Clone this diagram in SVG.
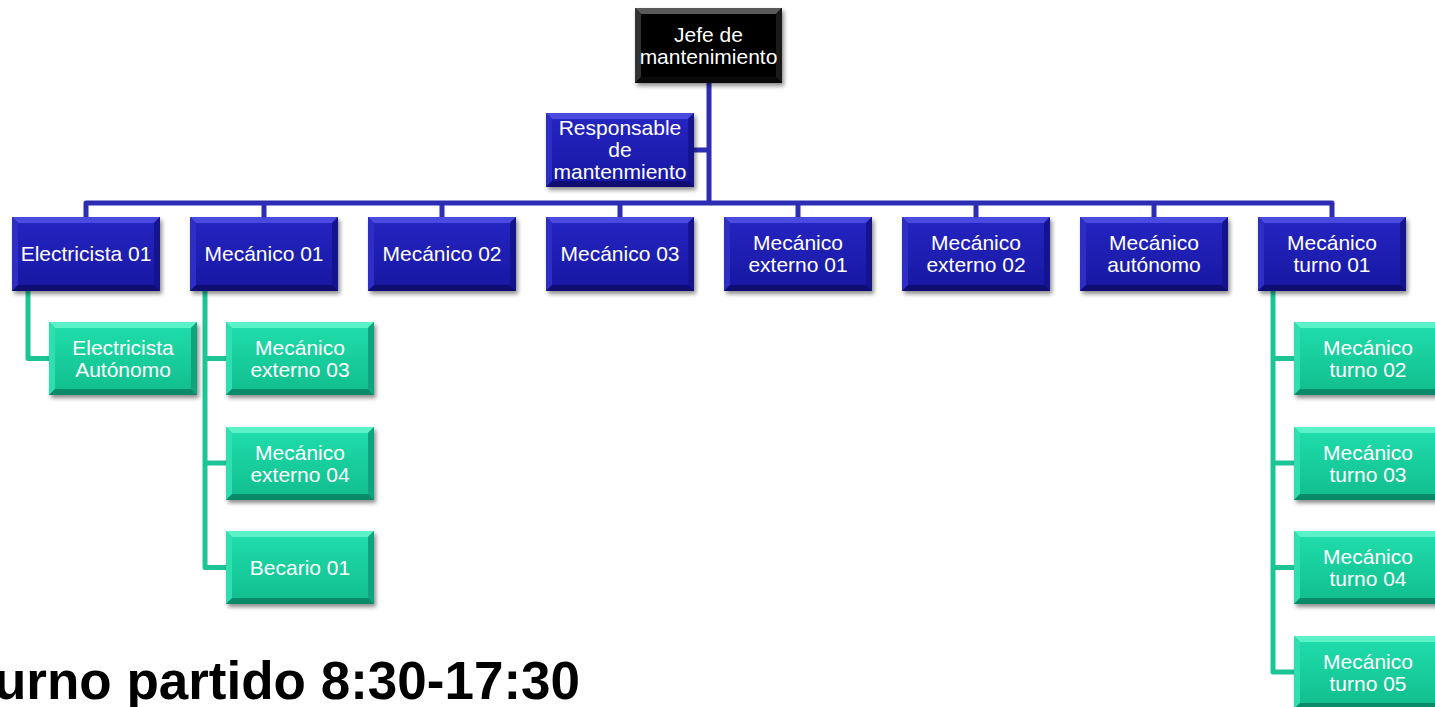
<svg xmlns="http://www.w3.org/2000/svg" xmlns:xlink="http://www.w3.org/1999/xlink" width="1435" height="707" viewBox="0 0 1435 707">
<style>
.t{fill:#ffffff;font-family:"Liberation Sans",Arial,sans-serif;font-size:21px;text-anchor:middle}
.bl{stroke:#2d2db4;stroke-width:5;fill:none;stroke-linejoin:round}
.gl{stroke:#1cc596;stroke-width:5;fill:none;stroke-linejoin:round}
.cap{fill:#000;font-family:"Liberation Sans",Arial,sans-serif;font-size:53px;font-weight:bold;text-anchor:end}
</style>
<defs>
<filter id="sh" x="-10%" y="-10%" width="130%" height="140%">
<feDropShadow dx="2" dy="3" stdDeviation="2" flood-color="#000" flood-opacity="0.45"/>
</filter>
<linearGradient id="gB" x1="0" y1="0" x2="0" y2="1">
<stop offset="0" stop-color="#2424c0"/><stop offset="1" stop-color="#1818a4"/>
</linearGradient>
<linearGradient id="gG" x1="0" y1="0" x2="0" y2="1">
<stop offset="0" stop-color="#1fdcaa"/><stop offset="1" stop-color="#12bf8f"/>
</linearGradient>
<g id="bxB">
<rect width="148" height="74" fill="#1a1aa8" filter="url(#sh)"/>
<polygon points="0,0 148,0 142,6 6,6" fill="#4a4ade"/>
<polygon points="0,0 6,6 6,68 0,74" fill="#2e2ec4"/>
<polygon points="148,0 148,74 142,68 142,6" fill="#14148e"/>
<polygon points="0,74 6,68 142,68 148,74" fill="#0d0d72"/>
<rect x="6" y="6" width="136" height="62" fill="url(#gB)"/>
</g>
<g id="bxG">
<rect width="148" height="73" fill="#14c496" filter="url(#sh)"/>
<polygon points="0,0 148,0 142,6 6,6" fill="#5cf2c8"/>
<polygon points="0,0 6,6 6,67 0,73" fill="#30dfb0"/>
<polygon points="148,0 148,73 142,67 142,6" fill="#0ea57d"/>
<polygon points="0,73 6,67 142,67 148,73" fill="#0a8a68"/>
<rect x="6" y="6" width="136" height="61" fill="url(#gG)"/>
</g>
<g id="bxK">
<rect width="147" height="75" fill="#000" filter="url(#sh)"/>
<polygon points="0,0 147,0 141,6 6,6" fill="#5a5a5a"/>
<polygon points="0,0 6,6 6,69 0,75" fill="#333"/>
<polygon points="147,0 147,75 141,69 141,6" fill="#1a1a1a"/>
<polygon points="0,75 6,69 141,69 147,75" fill="#0a0a0a"/>
<rect x="6" y="6" width="135" height="63" fill="#000"/>
</g>
</defs>
<rect width="1435" height="707" fill="#ffffff"/>

<g id="connectors">
<path class="bl" d="M709,83 V203 M694,150 H709 M86,217 V203 H1332 V217 M264,203 V217 M442,203 V217 M620,203 V217 M798,203 V217 M976,203 V217 M1154,203 V217"/>
<path class="gl" d="M28,291 V358.5 H49"/>
<path class="gl" d="M205,291 V567.5 H226 M205,358.5 H226 M205,463 H226"/>
<path class="gl" d="M1273,291 V672 H1294 M1273,358.5 H1294 M1273,463 H1294 M1273,567.5 H1294"/>
</g>

<g id="jefe" transform="translate(635,8)"><use xlink:href="#bxK"/><text class="t" x="73.5" y="33.5">Jefe de</text><text class="t" x="73.5" y="55.5">mantenimiento</text></g>
<g id="responsable" transform="translate(546,113)"><use xlink:href="#bxB"/><text class="t" x="74" y="22">Responsable</text><text class="t" x="74" y="44">de</text><text class="t" x="74" y="66">mantenmiento</text></g>

<g id="electricista01" transform="translate(12,217)"><use xlink:href="#bxB"/><text class="t" x="74" y="44">Electricista 01</text></g>
<g id="mecanico01" transform="translate(190,217)"><use xlink:href="#bxB"/><text class="t" x="74" y="44">Mecánico 01</text></g>
<g id="mecanico02" transform="translate(368,217)"><use xlink:href="#bxB"/><text class="t" x="74" y="44">Mecánico 02</text></g>
<g id="mecanico03" transform="translate(546,217)"><use xlink:href="#bxB"/><text class="t" x="74" y="44">Mecánico 03</text></g>
<g id="mecanicoext01" transform="translate(724,217)"><use xlink:href="#bxB"/><text class="t" x="74" y="33">Mecánico</text><text class="t" x="74" y="55">externo 01</text></g>
<g id="mecanicoext02" transform="translate(902,217)"><use xlink:href="#bxB"/><text class="t" x="74" y="33">Mecánico</text><text class="t" x="74" y="55">externo 02</text></g>
<g id="mecanicoauto" transform="translate(1080,217)"><use xlink:href="#bxB"/><text class="t" x="74" y="33">Mecánico</text><text class="t" x="74" y="55">autónomo</text></g>
<g id="mecanicoturno01" transform="translate(1258,217)"><use xlink:href="#bxB"/><text class="t" x="74" y="33">Mecánico</text><text class="t" x="74" y="55">turno 01</text></g>

<g id="electricistaauto" transform="translate(49,322)"><use xlink:href="#bxG"/><text class="t" x="74" y="33">Electricista</text><text class="t" x="74" y="55">Autónomo</text></g>
<g id="mecanicoext03" transform="translate(226,322)"><use xlink:href="#bxG"/><text class="t" x="74" y="33">Mecánico</text><text class="t" x="74" y="55">externo 03</text></g>
<g id="mecanicoext04" transform="translate(226,427)"><use xlink:href="#bxG"/><text class="t" x="74" y="33">Mecánico</text><text class="t" x="74" y="55">externo 04</text></g>
<g id="becario01" transform="translate(226,531)"><use xlink:href="#bxG"/><text class="t" x="74" y="44">Becario 01</text></g>

<g id="mecanicoturno02" transform="translate(1294,322)"><use xlink:href="#bxG"/><text class="t" x="74" y="33">Mecánico</text><text class="t" x="74" y="55">turno 02</text></g>
<g id="mecanicoturno03" transform="translate(1294,427)"><use xlink:href="#bxG"/><text class="t" x="74" y="33">Mecánico</text><text class="t" x="74" y="55">turno 03</text></g>
<g id="mecanicoturno04" transform="translate(1294,531)"><use xlink:href="#bxG"/><text class="t" x="74" y="33">Mecánico</text><text class="t" x="74" y="55">turno 04</text></g>
<g id="mecanicoturno05" transform="translate(1294,636)"><use xlink:href="#bxG"/><text class="t" x="74" y="33">Mecánico</text><text class="t" x="74" y="55">turno 05</text></g>

<text class="cap" x="580" y="699">urno partido 8:30-17:30</text>
</svg>
